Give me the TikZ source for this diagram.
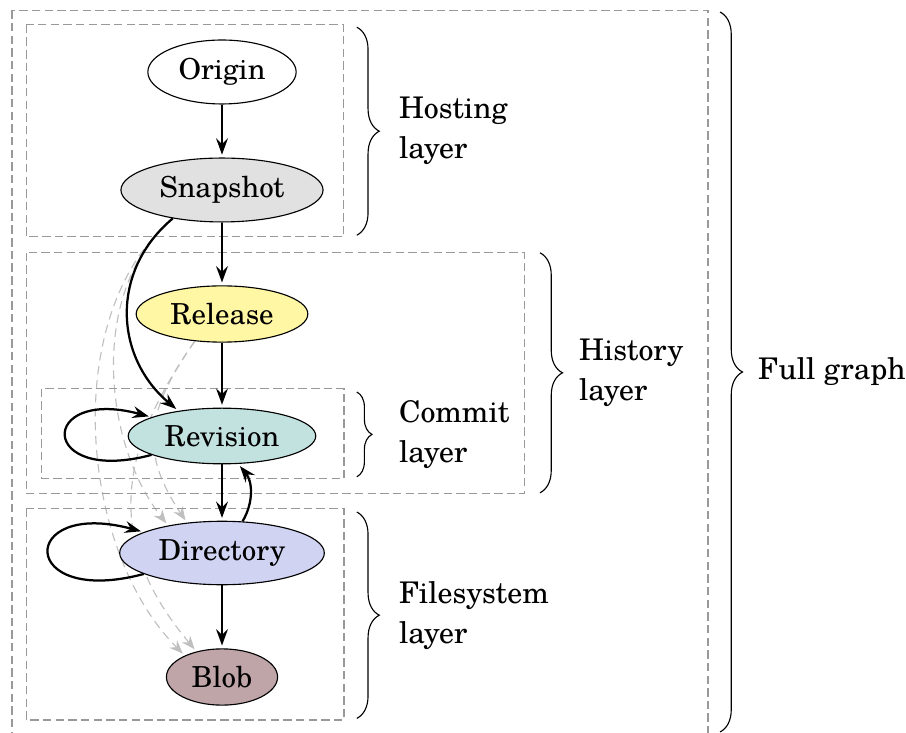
\documentclass[tikz,border=0pt]{standalone}
\usepackage{fontspec}
\setmainfont[Scale=1.03]{TeX Gyre Schola}
\usepackage{tikz}
\usetikzlibrary{positioning,arrows.meta,shapes.geometric,decorations.pathreplacing,backgrounds}
\definecolor{snapcol}{HTML}{E1E1E1}
\definecolor{relcol}{HTML}{FFF7A3}
\definecolor{revcol}{HTML}{C2E2E0}
\definecolor{dircol}{HTML}{D0D3F2}
\definecolor{blobcol}{HTML}{BFA5A8}
\tikzstyle{obj} = [draw, ellipse, inner sep=3.2pt]
\tikzstyle{to} = [->,>={Stealth[length=5.8pt,width=4.2pt,inset=2pt]},shorten >=1pt,thick]
\tikzstyle{alt} = [->,>={Stealth[length=4.8pt,width=3.8pt,inset=1.6pt]},shorten >=1pt,draw=black!25,dash pattern=on 3pt off 2pt]
\tikzstyle{layer} = [draw=black!40,dash pattern=on 3pt off 1.5pt]
\tikzstyle{brace} = [decorate,decoration={brace,amplitude=8pt}]
\tikzstyle{lbl} = [align=left,font=\fontsize{10.3}{14.2}\selectfont]

\begin{document}
\begin{tikzpicture}[auto, node distance=1.5cm, on grid]
		\useasboundingbox (0,0) rectangle (11.325,-9.1625);
		\node (origin) [obj] at (2.775,-0.9) {Origin};
		\node (snapshot) [obj,fill=snapcol,below=1.475cm of origin] {Snapshot};
		\node (release) [obj,fill=relcol,below=1.55cm of snapshot] {Release};
		\node (revision) [obj,fill=revcol,below=1.525cm of release] {Revision};
		\node (directory) [obj,fill=dircol,below=1.4625cm of revision] {Directory};
		\node (blob) [obj,fill=blobcol,below=1.55cm of directory] {Blob};
		\draw[to] (origin) -- (snapshot);
		\draw[to] (snapshot) -- (release);
		\draw[to] (release) -- (revision);
		\draw[to] (revision) -- (directory);
		\draw[to] (directory) -- (blob);
		\draw[to] (snapshot.210) to [out=220,in=140,looseness=1.1] (revision.150);
		\draw[to] (directory.57) to [bend right=35] (revision.300);
		\draw[to] (revision) to [loop left] ();
		\draw[to] (directory) to [loop left] ();
		% layers
		\begin{pgfonlayer}{background}
		\draw[alt] (snapshot.210) to [out=220,in=128,looseness=0.9] (directory.153);
		\draw[alt] (snapshot.210) to [out=220,in=135,looseness=0.87] (blob.150);
		\draw[alt] (release.225) to [out=235,in=124,looseness=1.2] (directory.139);
		\draw[alt] (release.225) to [out=235,in=130,looseness=1.15] (blob.135);
		\draw[layer] (0.15,-0.13) rectangle (8.85,-9.4);
		\draw[layer] (0.33,-0.31) rectangle (4.29,-2.96);
		\draw[layer] (0.33,-3.16) rectangle (6.56,-6.17);
		\draw[layer] (0.52,-4.86) rectangle (4.3,-5.98);
		\draw[layer] (0.33,-6.36) rectangle (4.3,-9.0);
		\end{pgfonlayer}
		\draw[brace] (4.46,-0.34) -- (4.46,-2.94) node (hosting) [lbl,midway,right=0.4cm,anchor=west] {Hosting\\layer};
		\draw[brace] (6.75,-3.16) -- (6.75,-6.16) node (history) [lbl,midway,right=0.36cm,anchor=west] {History\\layer};
		\draw[brace,decoration={amplitude=5.4pt}] (4.46,-4.9) -- (4.46,-5.96) node (commit) [lbl,midway,right=0.4cm,anchor=west] {Commit\\layer};
		\draw[brace] (4.46,-6.4) -- (4.46,-8.98) node (filesystem) [lbl,midway,right=0.4cm,anchor=west] {Filesystem\\layer};
		\draw[brace] (9.0,-0.15) -- (9.0,-9.15) node (full) [lbl,midway,right=0.35cm,anchor=west] {Full graph};
\end{tikzpicture}
\end{document}
